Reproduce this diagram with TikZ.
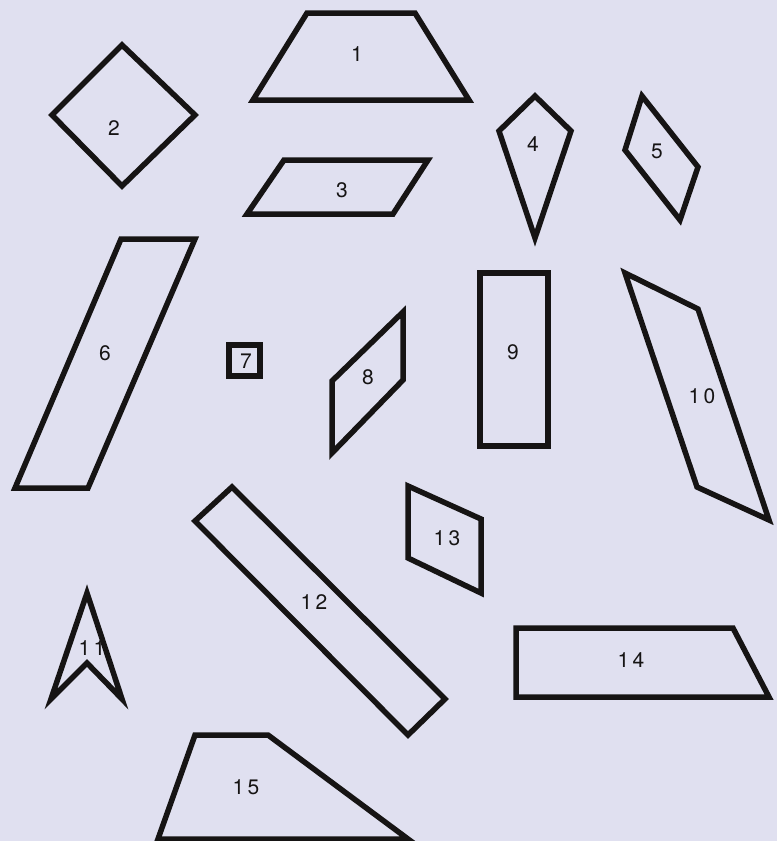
\documentclass[tikz,border=0pt]{standalone}
\usepackage{fontspec}
\setmainfont{TeX Gyre Heros}
\definecolor{bgc}{RGB}{224,224,240}
\definecolor{ink}{RGB}{22,20,20}
\tikzset{
  piece/.style={draw=ink,line width=5.5pt,line join=miter,miter limit=6},
  lbl/.style={font=\fontsize{21}{21}\selectfont,text=ink,inner sep=0pt}
}
\newcommand{\twodig}[2]{#1\kern3.5pt#2}
\begin{document}
\begin{tikzpicture}[x=1pt,y=-1pt]
\fill[bgc] (0,0) rectangle (777,841);
\useasboundingbox (0,0) rectangle (777,841);
% 1
\draw[piece] (307,13) -- (415,13) -- (469,100) -- (253,100) -- cycle;
\node[lbl] (l1) at (357,54) {1};
% 2
\draw[piece] (122,45) -- (195,115) -- (122,186) -- (52,115) -- cycle;
\node[lbl] (l2) at (114,128) {2};
% 3
\draw[piece] (284,160) -- (428,160) -- (393,214) -- (247,214) -- cycle;
\node[lbl] (l3) at (342,190) {3};
% 4
\draw[piece] (535,96) -- (571,131) -- (535,238) -- (499,131) -- cycle;
\node[lbl] (l4) at (533,144) {4};
% 5
\draw[piece] (642,96) -- (698,167) -- (680,220) -- (625,150) -- cycle;
\node[lbl] (l5) at (657,151) {5};
% 6
\draw[piece] (121,239) -- (195,239) -- (88,488) -- (15,488) -- cycle;
\node[lbl] (l6) at (105,353) {6};
% 7
\draw[piece] (229,345) rectangle (260,376);
\node[lbl] (l7) at (246,361) {7};
% 8
\draw[piece] (403,312) -- (403,380) -- (332,453) -- (332,381) -- cycle;
\node[lbl] (l8) at (368,377) {8};
% 9
\draw[piece] (480,273) rectangle (548,446);
\node[lbl] (l9) at (513,352) {9};
% 10
\draw[piece] (625,273) -- (698,309) -- (769,520) -- (697,487) -- cycle;
\node[lbl] (l10) at (702,396) {\twodig{1}{0}};
% 11
\draw[piece] (87,593) -- (122,699) -- (87,663) -- (51,699) -- cycle;
\node[lbl] (l11) at (92,648) {\twodig{1}{1}};
% 12
\draw[piece] (232,487) -- (445,699) -- (408,735) -- (195,521) -- cycle;
\node[lbl] (l12) at (314,602) {\twodig{1}{2}};
% 13
\draw[piece] (408,486) -- (481,519) -- (481,593) -- (408,558) -- cycle;
\node[lbl] (l13) at (447,538) {\twodig{1}{3}};
% 14
\draw[piece] (516,628) -- (733,628) -- (769,697) -- (516,697) -- cycle;
\node[lbl] (l14) at (631,660) {\twodig{1}{4}};
% 15
\draw[piece] (195,735) -- (268,735) -- (408,839) -- (158,839) -- cycle;
\node[lbl] (l15) at (246,787) {\twodig{1}{5}};
\end{tikzpicture}
\end{document}
